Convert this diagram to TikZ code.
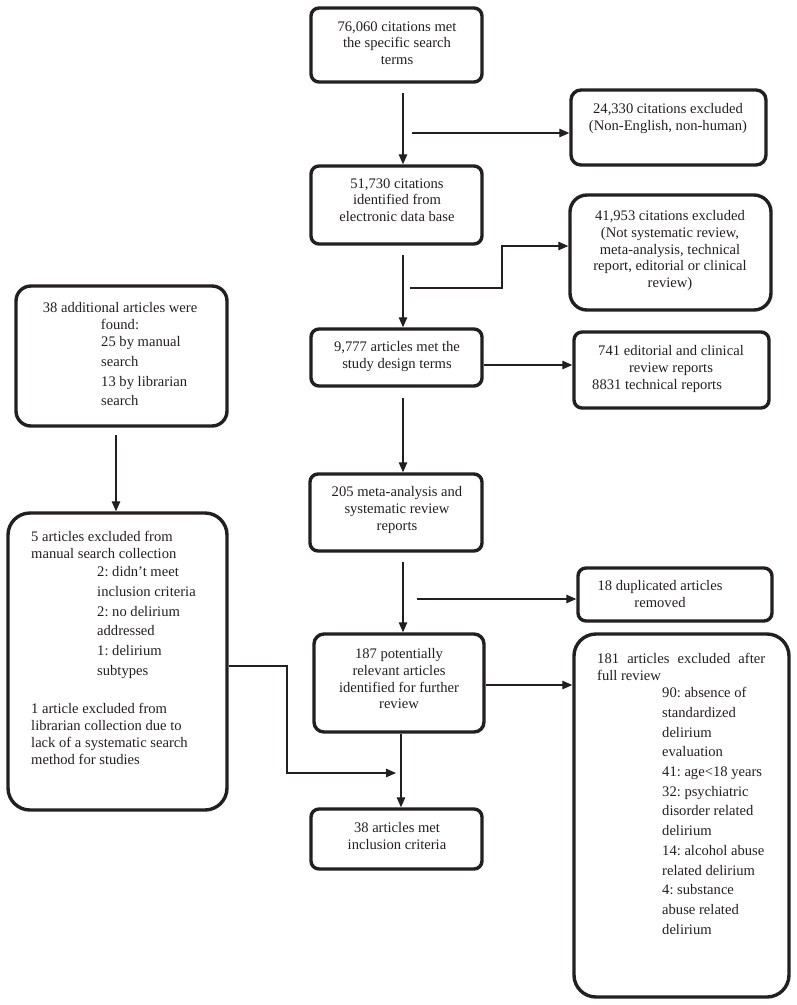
\documentclass[tikz,border=0pt]{standalone}
\usepackage{fontspec}
\setmainfont{Liberation Serif}
\usetikzlibrary{arrows.meta,fit}
\definecolor{ink}{HTML}{231F20}
\begin{document}
\frenchspacing
\begin{tikzpicture}[x=1pt,y=-1pt,
  box/.style={draw=ink, line width=3.4pt, inner sep=0pt, rounded corners=8pt},
  txt/.style={inner sep=0pt, anchor=north, align=center, text=ink, font=\fontsize{14.6}{16.7}\selectfont\frenchspacing},
  para/.style={inner sep=0pt, anchor=north west, align=left, text=ink, font=\fontsize{14.6}{16.9}\selectfont\frenchspacing},
  lst/.style={inner sep=0pt, anchor=north west, align=left, text=ink, font=\fontsize{14.6}{19.7}\selectfont\frenchspacing},
  arr/.style={draw=ink, line width=1.3pt, -{Triangle[length=10pt,width=8.5pt]}},
  ln/.style={draw=ink, line width=1.3pt}]
\useasboundingbox (0,0) rectangle (796,1005);
% boxes
\node[box, fit={(311,8) (482,82)}] (A) {};
\node[box, rounded corners=10pt, fit={(571,90) (766,165)}] (B) {};
\node[box, fit={(311,166) (482,244)}] (C) {};
\node[box, rounded corners=17pt, fit={(570,195) (771,310)}] (D) {};
\node[box, fit={(311,329) (482,386)}] (E) {};
\node[box, fit={(574,332) (769,408)}] (F) {};
\node[box, fit={(310,474) (482,551)}] (G) {};
\node[box, rounded corners=10pt, fit={(314,634) (484,732)}] (H) {};
\node[box, fit={(578,568) (772,621)}] (I) {};
\node[box, rounded corners=22pt, fit={(574,634) (789,997)}] (J) {};
\node[box, fit={(311,809) (482,869)}] (K) {};
\node[box, rounded corners=15pt, fit={(16,286) (227,426)}] (L) {};
\node[box, rounded corners=22pt, fit={(8,513) (227,810)}] (M) {};
% texts
\node[txt] (tA) at (397,21.3) {76,060 citations met\\the specific search\\terms};
\node[txt] (tB) at (668,103.3) {24,330 citations excluded\\(Non-English, non-human)};
\node[txt] (tC) at (397,178.3) {51,730 citations\\identified from\\electronic data base};
\node[txt] (tD) at (670,210.3) {41,953 citations excluded\\(Not systematic review,\\meta-analysis, technical\\report, editorial or clinical\\review)};
\node[txt] (tE) at (397,341.3) {9,777 articles met the\\study design terms};
\node[txt] (tF) at (671,345.3) {741 editorial and clinical\\review reports};
\node[para] (tF2) at (592,379.3) {8831 technical reports};
\node[txt] (tG) at (397,486.3) {205 meta-analysis and\\systematic review\\reports};
\node[txt] (tH) at (399,648.3) {187 potentially\\relevant articles\\identified for further\\review};
\node[txt] (tI) at (660,580.3) {18 duplicated articles\\removed};
\node[txt] (tK) at (397,822.3) {38 articles met\\inclusion criteria};
\node[txt] (tL) at (120,302.3) {38 additional articles were\\found:};
\node[lst] (tL2) at (101,336.3) {25 by manual\\search\\13 by librarian\\search};
\node[para] (tM) at (31,531.3) {5 articles excluded from\\manual search collection};
\node[lst] (tM2) at (97,566.3) {2: didn’t meet\\inclusion criteria\\2: no delirium\\addressed\\1: delirium\\subtypes};
\node[para] (tM3) at (31,703.3) {1 article excluded from\\librarian collection due to\\lack of a systematic search\\method for studies};
\node[para] (tJ) at (597,653.3) {\makebox[168pt][s]{181 articles excluded after}\\full review};
\node[lst] (tJ2) at (662,687.3) {90: absence of\\standardized\\delirium\\evaluation\\41: age<18 years\\32: psychiatric\\disorder related\\delirium\\14: alcohol abuse\\related delirium\\4: substance\\abuse related\\delirium};
% connectors
\coordinate (a1) at (403,93);
\draw[arr] (a1) -- (a1 |- C.north);
\coordinate (a2) at (412,133);
\draw[arr] (a2) -- (a2 -| B.west);
\coordinate (c1) at (403,255);
\draw[arr] (c1) -- (c1 |- E.north);
\coordinate (c2) at (410,288);
\coordinate (c3) at (502,246);
\draw[arr] (c2) -| (c3) -- (c3 -| D.west);
\coordinate (e1) at (0,365);
\draw[arr] (E.east |- e1) -- (F.west |- e1);
\coordinate (e2) at (403,398);
\draw[arr] (e2) -- (e2 |- G.north);
\coordinate (g1) at (403,562);
\draw[arr] (g1) -- (g1 |- H.north);
\coordinate (g2) at (417,599);
\draw[arr] (g2) -- (g2 -| I.west);
\coordinate (h1) at (0,685);
\draw[arr] (H.east |- h1) -- (J.west |- h1);
\coordinate (h2) at (401,0);
\draw[arr] (h2 |- H.south) -- (h2 |- K.north);
\coordinate (m1) at (287,666);
\coordinate (m2) at (396,773);
\draw[arr] (M.east |- m1) -- (m1) |- (m2);
\coordinate (l1) at (116,435);
\draw[arr] (l1) -- (l1 |- M.north);
\end{tikzpicture}
\end{document}
